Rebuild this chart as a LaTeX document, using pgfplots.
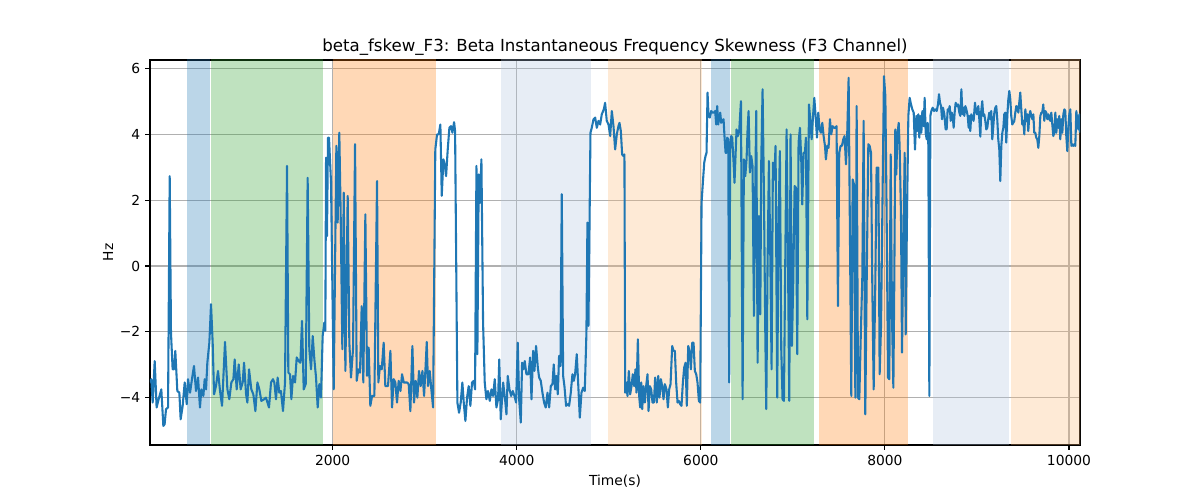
\documentclass[border=0pt]{standalone}
\usepackage{fontspec}
\setmainfont{DejaVu Sans}
\usepackage{pgfplots}
\pgfplotsset{compat=1.18}
\definecolor{tabblue}{RGB}{31,119,180}
\definecolor{tabgreen}{RGB}{44,160,44}
\definecolor{taborange}{RGB}{255,127,14}
\definecolor{lsblue}{RGB}{176,196,222}
\definecolor{lorange}{RGB}{252,185,118}
\definecolor{gridgray}{RGB}{176,176,176}
\begin{document}
\begin{tikzpicture}
\useasboundingbox (-108bp,-39.6bp) rectangle (756bp,320.4bp);
\begin{axis}[
  at={(0,0)}, anchor=south west, scale only axis,
  width=669.6bp, height=277.2bp,
  xmin=15, xmax=10120, ymin=-5.44, ymax=6.26,
  scaled x ticks=false, scaled y ticks=false,
  axis line style={line width=0.8bp},
  grid=major, major grid style={gridgray, line width=0.8bp},
  xtick={2000,4000,6000,8000,10000},
  xticklabels={2000,4000,6000,8000,10000},
  ytick={-4,-2,0,2,4,6},
  yticklabels={−4,−2,0,2,4,6},
  tick pos=left, tick align=outside,
  major tick length=3.5bp,
  tick style={black, line width=0.8bp},
  ticklabel style={font=\fontsize{10}{12}\selectfont},
  title={beta\_fskew\_F3: Beta Instantaneous Frequency Skewness (F3 Channel)},
  title style={font=\fontsize{12}{14}\selectfont, at={(axis description cs:0.5,1.0007)}, anchor=base},
  xlabel={Time(s)},
  xlabel style={font=\fontsize{10}{12}\selectfont, at={(axis description cs:0.5,-0.0934)}, anchor=center},
  ylabel={Hz},
  ylabel style={font=\fontsize{10}{12}\selectfont, at={(axis description cs:-0.0451,0.5)}, anchor=center},
]
% shaded spans
\addplot[draw=none, fill=tabblue, fill opacity=0.3] coordinates {(414,-10) (667,-10) (667,10) (414,10)} -- cycle;
\addplot[draw=none, fill=tabgreen, fill opacity=0.3] coordinates {(678,-10) (1895,-10) (1895,10) (678,10)} -- cycle;
\addplot[draw=none, fill=taborange, fill opacity=0.3] coordinates {(2000,-10) (3120,-10) (3120,10) (2000,10)} -- cycle;
\addplot[draw=none, fill=lsblue, fill opacity=0.3] coordinates {(3830,-10) (4808,-10) (4808,10) (3830,10)} -- cycle;
\addplot[draw=none, fill=lorange, fill opacity=0.3] coordinates {(4989,-10) (6008,-10) (6008,10) (4989,10)} -- cycle;
\addplot[draw=none, fill=tabblue, fill opacity=0.3] coordinates {(6109,-10) (6312,-10) (6312,10) (6109,10)} -- cycle;
\addplot[draw=none, fill=tabgreen, fill opacity=0.3] coordinates {(6327,-10) (7233,-10) (7233,10) (6327,10)} -- cycle;
\addplot[draw=none, fill=taborange, fill opacity=0.3] coordinates {(7280,-10) (8255,-10) (8255,10) (7280,10)} -- cycle;
\addplot[draw=none, fill=lsblue, fill opacity=0.3] coordinates {(8519,-10) (9348,-10) (9348,10) (8519,10)} -- cycle;
\addplot[draw=none, fill=lorange, fill opacity=0.3] coordinates {(9366,-10) (10130,-10) (10130,10) (9366,10)} -- cycle;
% signal
\addplot[tabblue, line width=1.5bp, no markers, line join=round] table {
x y
15 -3.54
29 -3.44
44 -4.15
66 -2.89
87 -4.30
109 -4.05
138 -3.75
160 -4.86
174 -4.81
189 -4.35
211 -4.30
229 2.73
243 -2.03
261 -3.14
276 -3.14
290 -2.58
312 -3.80
334 -3.85
348 -4.66
370 -4.25
392 -3.54
414 -4.20
428 -3.44
450 -3.85
471 -3.44
493 -3.04
515 -3.80
537 -3.39
558 -4.30
573 -3.75
595 -3.95
609 -3.44
624 -3.75
638 -2.94
660 -2.33
678 -1.16
696 -2.33
711 -3.90
732 -3.65
754 -3.19
776 -3.80
798 -4.25
830 -2.31
856 -3.75
877 -4.05
899 -3.54
921 -3.44
935 -2.84
957 -3.75
979 -2.99
1000 -3.75
1022 -3.54
1037 -2.94
1059 -3.90
1073 -4.15
1091 -3.14
1116 -3.75
1138 -3.90
1160 -4.41
1182 -3.54
1203 -3.75
1225 -4.10
1254 -4.05
1275 -4.00
1308 -4.30
1330 -3.54
1351 -3.44
1366 -3.54
1384 -4.05
1402 -3.39
1420 -3.85
1438 -3.80
1460 -4.41
1482 -3.54
1504 3.04
1518 -3.24
1536 -3.29
1551 -4.05
1569 -3.34
1591 -3.54
1609 -2.78
1630 -2.89
1649 -2.94
1667 -1.67
1685 -3.75
1707 -3.59
1728 2.68
1746 -2.53
1765 -3.14
1783 -2.13
1801 -2.84
1819 -3.39
1837 -4.30
1855 -3.59
1873 -4.00
1891 -2.13
1909 -1.72
1920 -1.97
1928 3.29
1938 0.91
1949 3.90
1960 3.90
1982 2.53
2011 -3.75
2040 3.65
2054 1.32
2072 4.05
2087 1.52
2105 -2.53
2120 2.23
2138 -3.19
2163 2.13
2181 -2.33
2199 -3.39
2221 -2.53
2243 3.70
2261 -3.49
2279 -3.14
2297 -3.24
2315 -1.22
2333 -3.54
2355 1.57
2373 -3.34
2391 -2.48
2409 -4.25
2428 -3.95
2453 -3.95
2482 2.58
2496 -3.54
2514 -3.04
2533 -3.14
2554 -2.33
2572 -3.65
2601 -3.65
2627 -2.58
2645 -4.30
2663 -3.44
2681 -3.54
2699 -4.15
2717 -3.49
2736 -3.80
2754 -3.29
2772 -3.54
2790 -3.54
2808 -3.54
2826 -3.59
2844 -4.41
2866 -2.43
2884 -4.15
2902 -3.49
2920 -4.00
2938 -3.19
2956 -3.65
2975 -3.19
2993 -3.95
3007 -3.19
3022 -2.31
3036 -3.65
3054 -3.19
3072 -3.75
3091 -4.30
3115 3.54
3134 4.00
3152 4.00
3170 4.30
3185 2.13
3203 3.24
3217 3.09
3232 2.73
3250 3.54
3268 4.20
3286 4.25
3301 4.05
3319 4.37
3330 4.10
3355 -4.15
3373 -4.46
3391 -4.15
3409 -3.54
3424 -4.15
3442 -4.71
3460 -4.00
3478 -3.65
3496 -4.25
3514 -3.54
3533 -3.49
3547 -3.75
3562 3.04
3572 -2.68
3587 2.78
3601 1.92
3616 3.24
3634 -1.72
3652 -3.54
3670 -4.05
3688 -3.80
3707 -4.10
3725 -3.75
3743 -3.95
3761 -3.44
3779 -4.30
3797 -4.05
3810 -2.84
3826 -4.66
3852 -3.54
3873 -4.05
3888 -4.51
3902 -3.34
3921 -3.75
3939 -3.95
3957 -3.80
3975 -3.95
3993 -4.15
4011 -2.33
4026 -4.05
4044 -4.76
4058 -2.94
4073 -3.14
4087 -2.89
4105 -3.29
4127 -3.29
4145 -2.78
4160 -4.05
4178 -2.58
4192 -3.19
4210 -2.43
4229 -3.09
4243 -3.39
4261 -3.49
4279 -3.85
4297 -4.15
4315 -4.30
4334 -3.85
4352 -4.30
4370 -3.65
4388 -3.59
4402 -2.99
4417 -3.75
4431 -3.34
4446 -3.90
4460 -2.73
4475 -3.04
4489 2.18
4504 -3.34
4518 -3.65
4536 -4.25
4555 -4.20
4569 -4.25
4587 -3.85
4605 -3.29
4620 -3.49
4634 -3.29
4652 -2.68
4667 -3.54
4685 -4.61
4703 -3.85
4721 -3.70
4739 -3.80
4757 -2.03
4768 1.32
4779 -1.82
4790 1.11
4801 4.05
4815 4.20
4834 4.46
4852 4.51
4870 4.20
4888 4.41
4906 4.30
4924 4.61
4946 4.76
4960 4.96
4978 4.41
4997 4.30
5015 3.95
5033 4.71
5051 4.25
5069 3.54
5087 4.00
5105 4.25
5116 4.35
5131 4.10
5145 3.39
5160 3.34
5170 3.39
5178 -3.85
5189 -3.54
5203 -3.95
5218 -3.19
5232 -3.90
5247 -3.65
5261 -3.29
5276 -3.65
5290 -3.14
5301 -3.85
5316 -2.23
5330 -3.95
5341 -4.30
5352 -3.54
5363 -4.35
5377 -3.65
5392 -4.15
5406 -3.65
5421 -3.29
5432 -4.41
5446 -3.65
5461 -3.75
5475 -4.15
5490 -4.15
5504 -3.39
5522 -4.15
5537 -3.34
5551 -4.00
5566 -3.44
5580 -3.65
5595 -4.05
5609 -3.59
5627 -3.75
5642 -4.30
5656 -3.75
5671 -3.59
5689 -2.43
5703 -2.58
5718 -2.58
5732 -3.54
5747 -4.15
5761 -4.10
5776 -4.20
5790 -4.25
5805 -3.54
5819 -3.09
5834 -2.94
5848 -4.25
5863 -2.43
5877 -2.58
5892 -3.14
5906 -2.33
5921 -2.33
5935 -3.19
5950 -3.29
5964 -3.54
5979 -4.10
5993 -4.15
6008 1.92
6022 2.53
6037 3.14
6051 3.34
6062 3.44
6073 5.27
6084 4.56
6098 4.51
6113 4.71
6127 4.66
6142 4.66
6156 4.71
6167 4.30
6178 4.86
6189 4.30
6200 4.51
6211 4.66
6221 4.35
6232 4.41
6247 4.46
6258 3.90
6269 3.44
6279 3.44
6287 3.90
6298 3.85
6308 -3.54
6319 3.54
6330 3.95
6341 3.90
6356 3.14
6366 2.53
6388 4.15
6403 3.95
6417 4.10
6436 5.01
6454 -4.05
6468 3.24
6483 2.73
6497 3.24
6508 4.15
6519 4.71
6533 2.84
6548 3.34
6562 3.04
6577 -1.52
6588 1.57
6602 4.71
6617 -2.94
6631 1.52
6646 -1.47
6657 3.24
6671 5.37
6686 2.13
6700 -1.92
6711 -4.35
6725 0.00
6740 3.19
6754 0.51
6769 -3.14
6783 3.14
6798 2.63
6812 3.65
6830 -4.00
6845 1.52
6859 3.49
6874 -2.53
6888 -4.05
6903 -4.10
6917 0.00
6932 4.15
6946 0.51
6961 -4.10
6975 4.00
6990 -2.43
7004 -0.51
7019 2.43
7033 2.38
7048 -2.68
7062 3.75
7077 4.20
7091 3.24
7102 1.87
7117 3.44
7131 3.44
7142 3.90
7157 -1.62
7175 4.91
7189 4.46
7204 3.85
7218 4.51
7233 5.11
7247 4.56
7262 3.90
7276 4.66
7291 4.15
7305 4.05
7320 4.35
7334 3.95
7349 3.65
7359 3.24
7374 3.65
7388 3.59
7403 4.46
7417 4.00
7432 4.25
7446 4.20
7461 4.20
7475 4.25
7490 -1.22
7504 3.44
7519 3.65
7533 3.65
7548 3.85
7562 3.95
7577 3.09
7591 4.05
7606 5.72
7635 -3.95
7650 2.63
7664 2.48
7679 -4.00
7693 4.86
7708 -4.00
7722 -4.05
7737 -2.23
7755 -0.30
7769 4.41
7787 -4.51
7802 -0.51
7820 3.70
7834 3.65
7849 3.44
7863 -0.51
7878 -3.75
7896 -0.51
7910 2.99
7929 2.99
7943 -3.29
7958 -1.82
7972 1.52
7990 5.77
8005 5.16
8019 1.52
8034 -3.39
8048 -3.44
8063 3.39
8077 -1.52
8092 -3.70
8102 -0.51
8113 4.15
8124 2.78
8135 3.95
8150 4.35
8160 3.65
8175 1.52
8186 -2.63
8200 0.51
8215 3.44
8226 -2.08
8240 1.52
8255 4.56
8269 5.11
8284 4.91
8298 4.76
8313 4.66
8327 3.54
8342 4.56
8352 4.10
8363 4.61
8374 3.90
8385 4.56
8396 4.05
8407 4.71
8421 4.25
8432 5.11
8443 4.05
8454 3.85
8465 4.35
8472 3.65
8483 -3.95
8494 4.56
8505 4.71
8519 4.81
8534 4.71
8548 4.76
8563 4.71
8577 4.91
8588 5.22
8599 4.96
8610 4.86
8621 4.46
8631 4.81
8646 4.61
8660 4.15
8671 4.15
8682 4.76
8693 4.71
8704 4.86
8715 4.41
8726 4.66
8737 4.56
8747 4.20
8758 4.66
8769 4.96
8784 4.86
8795 4.91
8809 4.66
8820 4.56
8831 5.37
8842 4.61
8853 4.81
8863 4.56
8874 4.86
8885 4.76
8900 4.56
8910 4.20
8917 4.56
8928 4.10
8939 4.61
8953 4.51
8964 4.41
8979 4.96
8989 4.71
9000 4.61
9015 4.86
9026 4.46
9037 3.93
9047 4.71
9058 5.01
9069 4.56
9080 4.61
9091 4.41
9102 4.15
9113 4.20
9123 4.46
9134 4.66
9145 4.46
9156 4.71
9167 3.85
9178 4.25
9189 4.66
9200 4.81
9210 4.86
9221 4.46
9232 3.85
9243 3.54
9254 2.58
9265 3.65
9276 4.05
9287 4.20
9297 4.61
9308 4.66
9319 3.75
9330 4.56
9341 5.06
9352 5.32
9363 5.06
9373 4.56
9384 4.30
9395 4.35
9406 4.41
9417 4.66
9428 4.86
9439 4.81
9450 4.66
9460 4.96
9471 5.27
9482 4.76
9493 4.30
9504 4.41
9515 4.00
9526 4.76
9537 4.41
9547 4.61
9558 4.10
9569 4.56
9580 4.71
9591 4.56
9602 4.46
9613 4.61
9623 4.05
9634 4.05
9645 3.90
9656 3.85
9667 3.59
9678 3.95
9689 4.56
9700 4.66
9710 4.66
9721 4.91
9732 4.41
9743 4.71
9754 4.66
9765 4.46
9776 4.61
9787 4.46
9797 4.41
9808 4.66
9819 4.30
9830 3.95
9841 4.05
9852 4.66
9863 4.05
9873 4.46
9884 4.20
9895 4.56
9906 3.85
9917 4.46
9928 4.05
9939 4.61
9950 4.76
9960 4.71
9971 3.95
9982 3.49
9993 4.20
10004 4.61
10015 4.76
10026 3.65
10036 3.70
10047 3.65
10058 3.70
10069 3.65
10080 4.71
10091 4.41
10102 4.15
10113 4.61
10120 4.05
};
\end{axis}
\end{tikzpicture}
\end{document}
